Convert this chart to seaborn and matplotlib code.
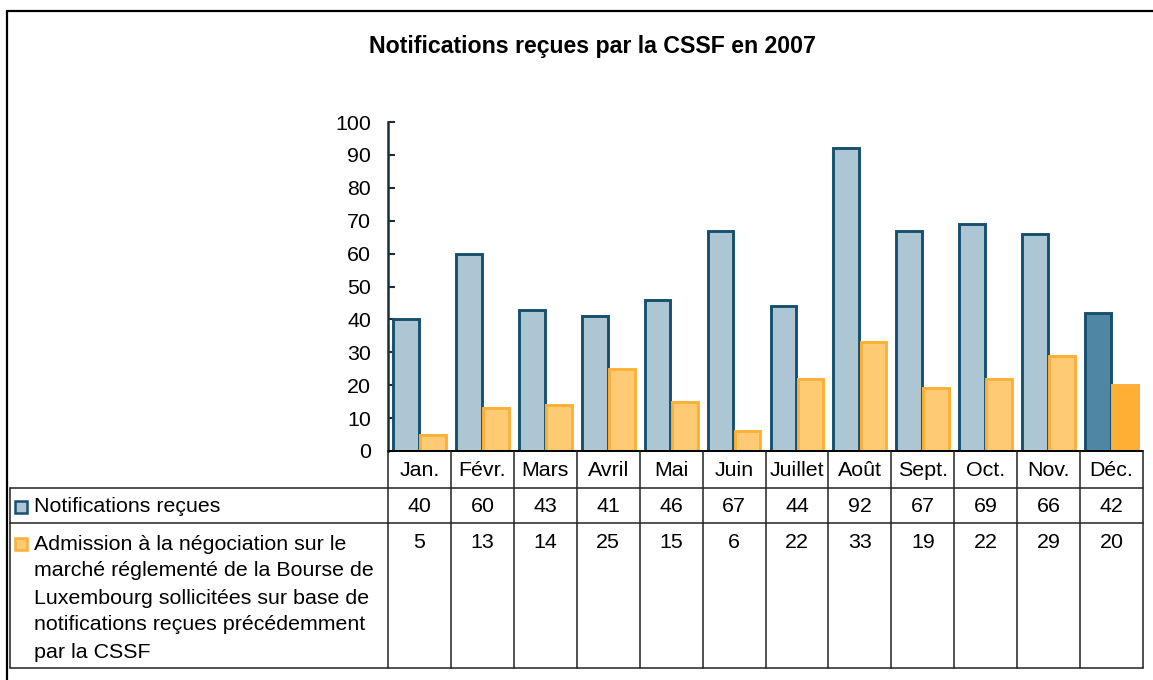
import pandas as pd
import matplotlib.pyplot as plt
import seaborn as sns

# Data
mois = ['Jan.', 'Févr.', 'Mars', 'Avril', 'Mai', 'Juin', 'Juillet', 'Août',
        'Sept.', 'Oct.', 'Nov.', 'Déc.']
notifications = [40, 60, 43, 41, 46, 67, 44, 92, 67, 69, 66, 42]
admissions = [5, 13, 14, 25, 15, 6, 22, 33, 19, 22, 29, 20]
serie_1 = 'Notifications reçues'
serie_2_lignes = ['Admission à la négociation sur le',
                  'marché réglementé de la Bourse de',
                  'Luxembourg sollicitées sur base de',
                  'notifications reçues précédemment',
                  'par la CSSF']
serie_2 = ' '.join(serie_2_lignes)
titre = 'Notifications reçues par la CSSF en 2007'

# colours
bleu, bleu_bord, bleu_fonce = '#ADC6D4', '#17506F', '#4F86A2'
orange, orange_bord, orange_fonce = '#FECB74', '#FDB037', '#FFAF33'

df = pd.DataFrame({
    'mois': mois * 2,
    'valeur': notifications + admissions,
    'serie': [serie_1] * len(mois) + [serie_2] * len(mois),
})

sns.set_style('white')
plt.rcParams['font.family'] = ['Liberation Sans', 'DejaVu Sans']
plt.rcParams['text.color'] = 'black'
FS = 15.4

W, H = 1153, 680
fig = plt.figure(figsize=(W / 100, H / 100), dpi=100)

# plot area in pixel coords
x0, x1, y_top, y_bot = 388, 1143, 122, 451
ax = fig.add_axes([x0 / W, 1 - y_bot / H, (x1 - x0) / W, (y_bot - y_top) / H])

sns.barplot(data=df, x='mois', y='valeur', hue='serie', order=mois,
            palette=[bleu, orange], width=0.86, gap=0.05, saturation=1,
            legend=False, ax=ax, linewidth=2.1)

# edges and highlighted last month
for cont, edge, dark in zip(ax.containers, [bleu_bord, orange_bord],
                            [bleu_fonce, orange_fonce]):
    for i, patch in enumerate(cont.patches):
        patch.set_edgecolor(edge)
        if i == len(mois) - 1:
            patch.set_facecolor(dark)
            if dark == orange_fonce:
                patch.set_edgecolor(dark)

ax.set_ylim(0, 100)
ax.set_xlim(-0.5, len(mois) - 0.5)
ax.set_yticks(range(0, 101, 10))
ax.set_xticks([])
ax.set_xlabel('')
ax.set_ylabel('')
ax.tick_params(axis='y', direction='in', length=5, width=1.5, colors='#1b2e38',
               pad=12, labelsize=FS, labelcolor='black', left=True)
for s in ['top', 'right']:
    ax.spines[s].set_visible(False)
ax.spines['left'].set_color('#1b2e38')
ax.spines['left'].set_linewidth(1.8)
ax.spines['bottom'].set_visible(False)
ax.patch.set_visible(False)

# overlay in pixel coords for the data table and frame
ov = fig.add_axes([0, 0, 1, 1])
ov.set_xlim(0, W)
ov.set_ylim(H, 0)
ov.axis('off')
ov.patch.set_visible(False)

# outer frame
ov.plot([7, 7], [11, H + 5], color='black', lw=1.6)
ov.plot([7, W + 5], [11, 11], color='black', lw=1.6)

ov.text(592, 46, titre, ha='center', va='center', fontsize=16.7,
        fontweight='bold')

# table geometry
col_w = (x1 - x0) / len(mois)
t_left, r1, r2, t_bot = 10, 488, 523, 668
lc = '#222222'
ov.plot([x0, x1], [y_bot, y_bot], color='black', lw=1.4)
for y in [r1, r2, t_bot]:
    ov.plot([t_left, x1], [y, y], color=lc, lw=1.1)
ov.plot([t_left, t_left], [r1, t_bot], color=lc, lw=1.1)
for i in range(len(mois) + 1):
    ov.plot([x0 + i * col_w] * 2, [y_bot, t_bot], color=lc, lw=1.1)

for i, m in enumerate(mois):
    cx = x0 + (i + 0.5) * col_w
    ov.text(cx, 470, m, ha='center', va='center', fontsize=FS)
    ov.text(cx, 506, str(notifications[i]), ha='center', va='center', fontsize=FS)
    ov.text(cx, 543, str(admissions[i]), ha='center', va='center', fontsize=FS)

# legend keys
ov.add_patch(plt.Rectangle((15, 501), 12, 12, facecolor=bleu,
                           edgecolor=bleu_bord, lw=1.8))
ov.add_patch(plt.Rectangle((15, 538), 12, 12, facecolor=orange,
                           edgecolor=orange_bord, lw=1.8))
ov.text(34, 507, serie_1, ha='left', va='center', fontsize=FS)
for k, ligne in enumerate(serie_2_lignes):
    ov.text(34, 544 + k * 27, ligne, ha='left', va='center', fontsize=FS)

plt.savefig('out.png', dpi=100)
